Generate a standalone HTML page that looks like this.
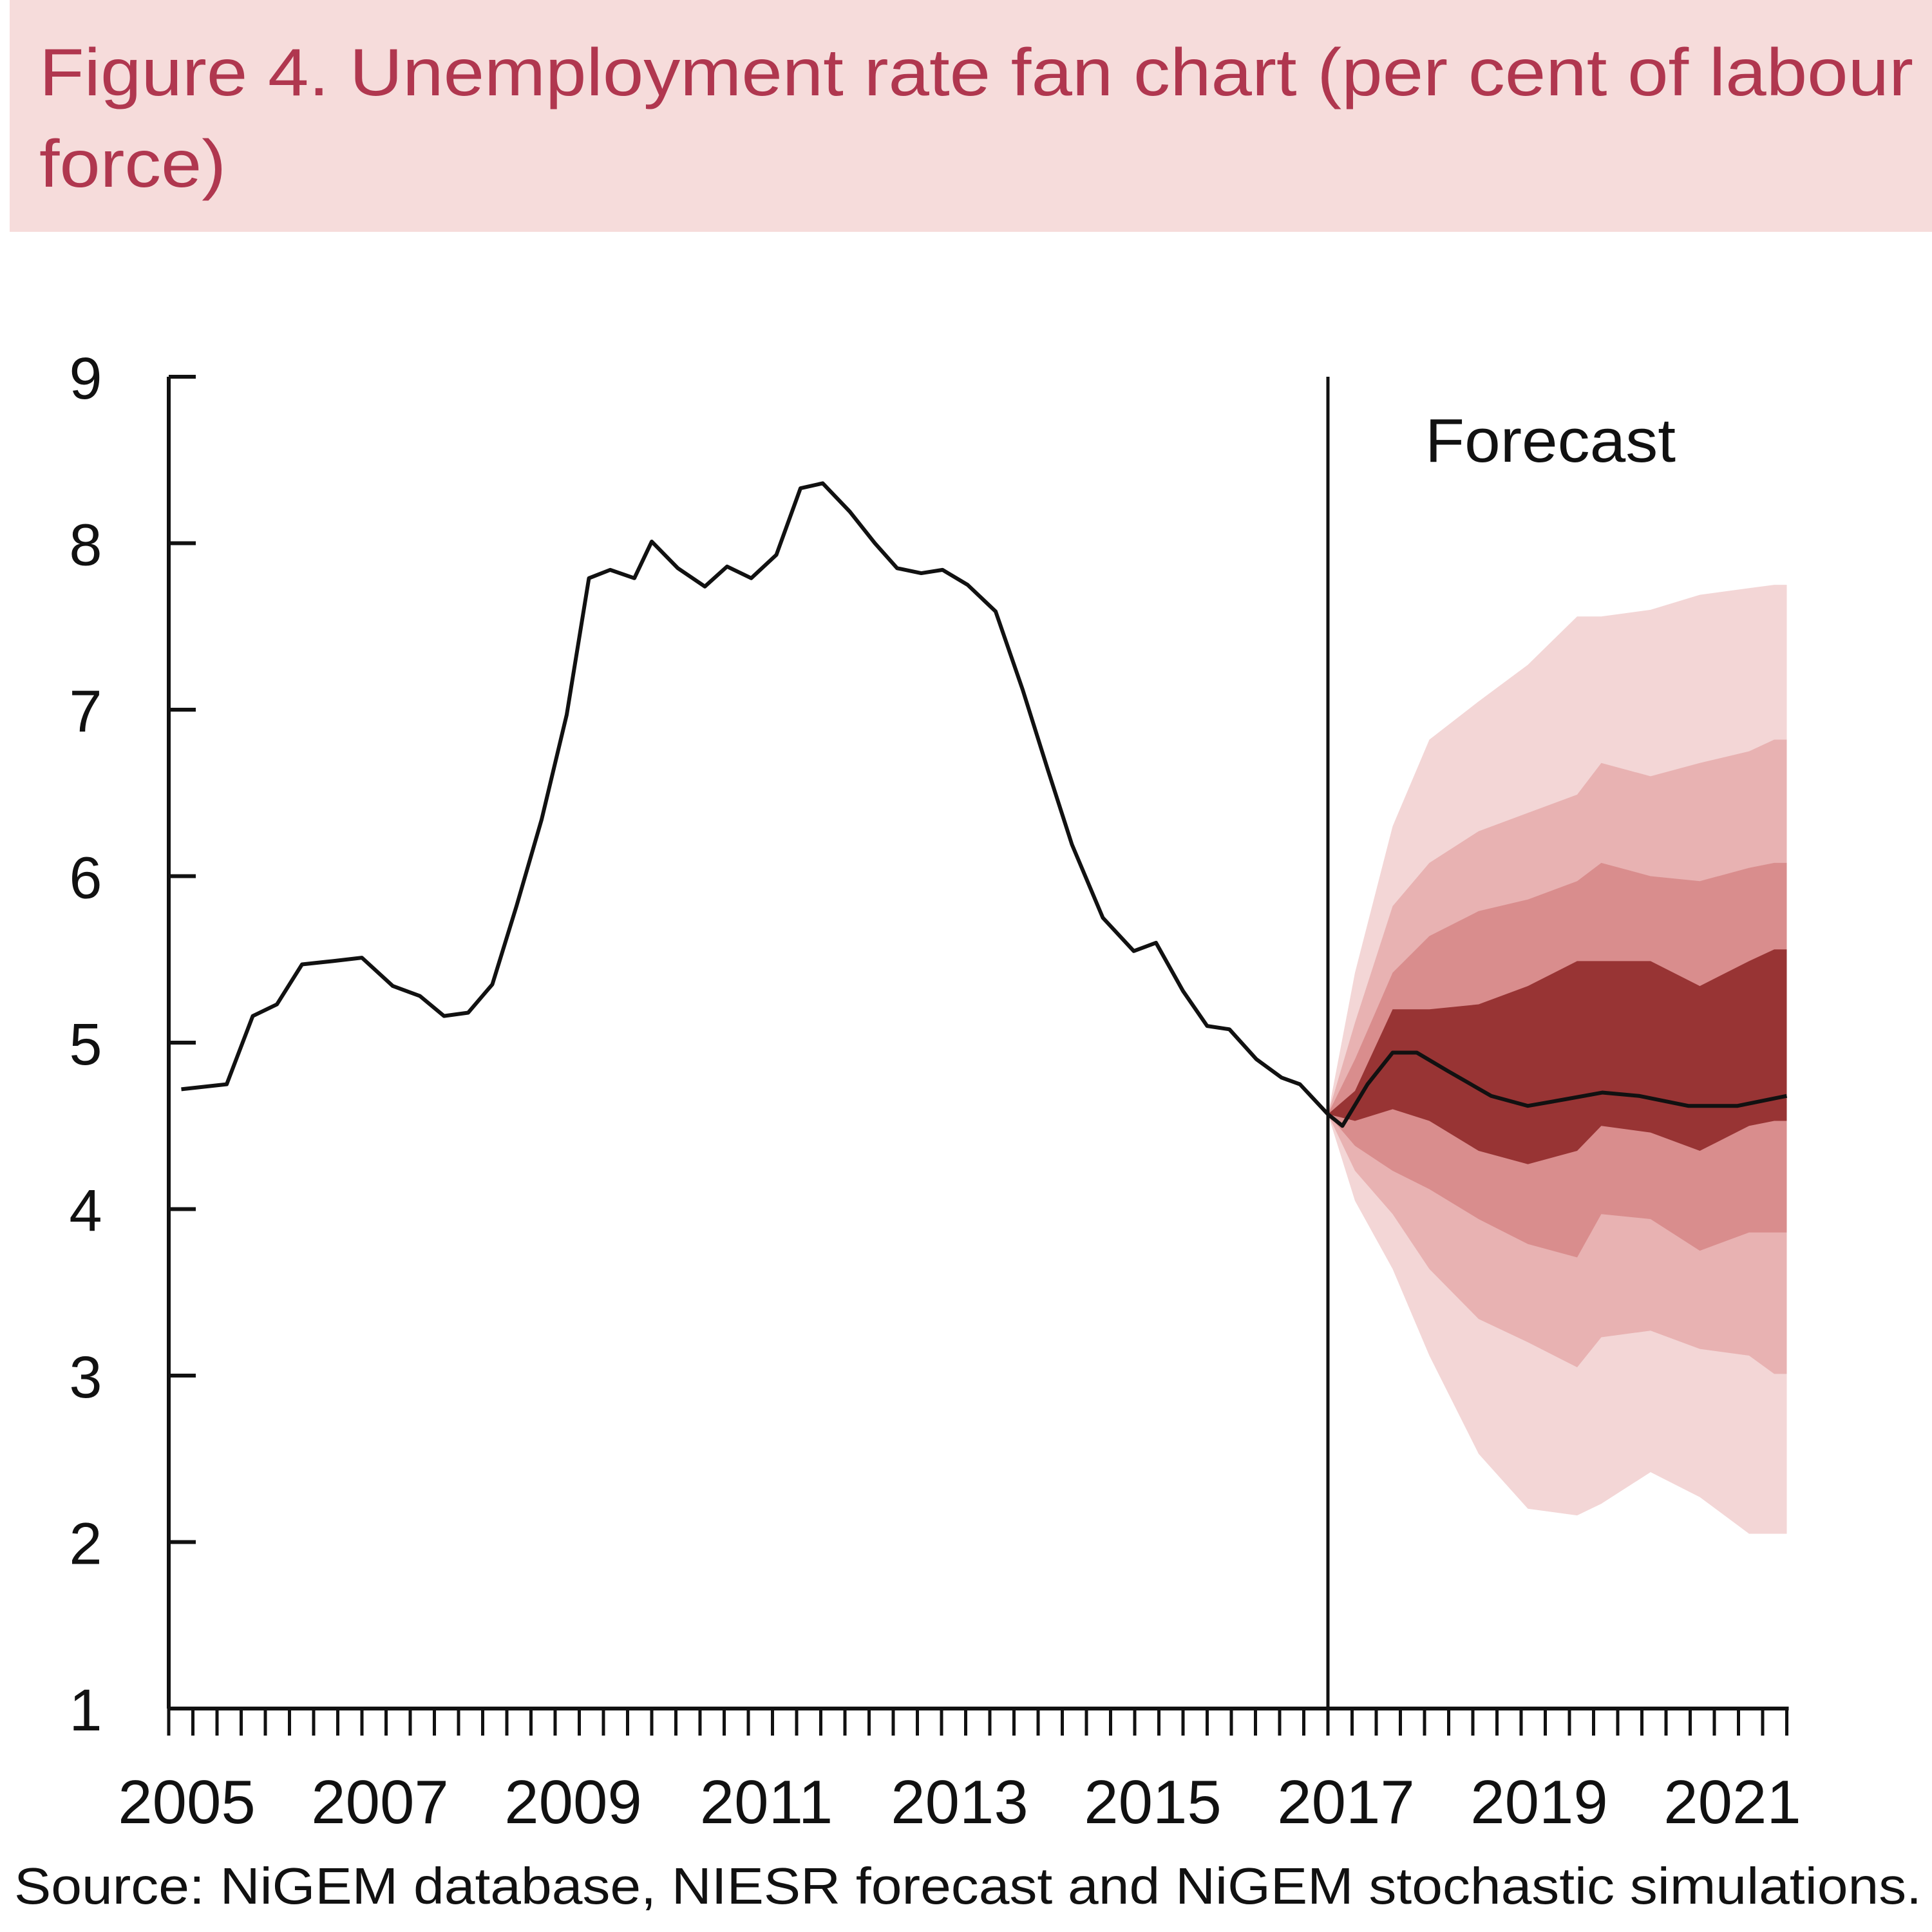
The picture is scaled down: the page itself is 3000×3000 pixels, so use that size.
<!DOCTYPE html>
<html><head><meta charset="utf-8"><style>
body{margin:0;background:#fff}
svg{display:block}
text{font-family:"Liberation Sans","DejaVu Sans",sans-serif}
</style></head><body>
<svg id="c" width="3000" height="3000" viewBox="0 0 3000 3000" xmlns="http://www.w3.org/2000/svg">
<rect x="15" y="0" width="2985" height="360" fill="#f6dcdb"/>
<text x="61" y="148" font-size="104" fill="#b0374f" textLength="2910" lengthAdjust="spacingAndGlyphs">Figure 4. Unemployment rate fan chart (per cent of labour</text>
<text x="61" y="290" font-size="104" fill="#b0374f" textLength="290" lengthAdjust="spacingAndGlyphs">force)</text>
<g id="fan"></g>
<g id="lines"></g>
<g id="axes"></g>
<text x="2213" y="717" font-size="96" fill="#111" textLength="389" lengthAdjust="spacingAndGlyphs">Forecast</text>
<text x="22" y="2956" font-size="80" fill="#111" textLength="2962" lengthAdjust="spacingAndGlyphs">Source: NiGEM database, NIESR forecast and NiGEM stochastic simulations.</text>
</svg>
<script>
const histYears=[2005.13,2005.6,2005.87,2006.12,2006.38,2006.7,2007.0,2007.32,2007.6,2007.85,2008.1,2008.35,2008.6,2008.86,2009.12,2009.35,2009.57,2009.82,2010.0,2010.27,2010.55,2010.78,2011.03,2011.29,2011.54,2011.77,2012.05,2012.31,2012.54,2012.79,2013.01,2013.27,2013.56,2013.84,2014.1,2014.35,2014.67,2014.99,2015.22,2015.5,2015.75,2015.98,2016.26,2016.52,2016.71,2017.0];
const histValues=[4.72,4.75,5.16,5.23,5.47,5.49,5.51,5.34,5.28,5.16,5.18,5.35,5.82,6.34,6.97,7.79,7.84,7.79,8.01,7.85,7.74,7.86,7.79,7.93,8.33,8.36,8.19,8.0,7.85,7.82,7.84,7.75,7.59,7.12,6.64,6.19,5.75,5.55,5.6,5.31,5.1,5.08,4.9,4.79,4.75,4.57];
const fcYears=[2017.0,2017.15,2017.41,2017.67,2017.92,2018.24,2018.69,2019.07,2019.46,2019.84,2020.22,2020.73,2021.24,2021.75];
const fcValues=[4.57,4.5,4.75,4.94,4.94,4.83,4.68,4.62,4.66,4.7,4.68,4.62,4.62,4.68];
const fanYears=[2017.0,2017.28,2017.67,2018.05,2018.56,2019.07,2019.58,2019.83,2020.34,2020.85,2021.36,2021.62,2021.75];
const band90Upper=[4.57,5.42,6.3,6.82,7.05,7.27,7.56,7.56,7.6,7.69,7.73,7.75,7.75];
const band90Lower=[4.57,4.05,3.64,3.12,2.53,2.2,2.16,2.23,2.42,2.27,2.05,2.05,2.05];
const band70Upper=[4.57,5.12,5.82,6.08,6.27,6.38,6.49,6.68,6.6,6.68,6.75,6.82,6.82];
const band70Lower=[4.57,4.23,3.97,3.64,3.34,3.2,3.05,3.23,3.27,3.16,3.12,3.01,3.01];
const band50Upper=[4.57,4.9,5.42,5.64,5.79,5.86,5.97,6.08,6.0,5.97,6.05,6.08,6.08];
const band50Lower=[4.57,4.38,4.23,4.12,3.94,3.79,3.71,3.97,3.94,3.75,3.86,3.86,3.86];
const band30Upper=[4.57,4.71,5.2,5.2,5.23,5.34,5.49,5.49,5.49,5.34,5.49,5.56,5.56];
const band30Lower=[4.57,4.53,4.6,4.53,4.35,4.27,4.35,4.5,4.46,4.35,4.5,4.53,4.53];
const yTicks=[1,2,3,4,5,6,7,8,9];
const xLabels=[2005,2007,2009,2011,2013,2015,2017,2019,2021];
const forecastStart=2017;

const NS="http://www.w3.org/2000/svg";
const X0=262,PX=150,Y9=585,PY=258.5;
const sx=t=>X0+(t-2005)*PX;
const sy=v=>Y9+(9-v)*PY;
function mk(tag,attrs,parent){const e=document.createElementNS(NS,tag);for(const k in attrs)e.setAttribute(k,attrs[k]);parent.appendChild(e);return e;}
const fan=document.getElementById('fan'),lines=document.getElementById('lines'),axes=document.getElementById('axes');
function band(up,lo,col,name){
  let d='M'+fanYears.map((t,i)=>sx(t)+','+sy(up[i])).join(' L');
  for(let i=fanYears.length-1;i>=0;i--)d+=' L'+sx(fanYears[i])+','+sy(lo[i]);
  const p=mk('path',{d:d+'Z',fill:col},fan);
  
  
}
band(band90Upper,band90Lower,'#f3d6d6','fan-band-outer');
band(band70Upper,band70Lower,'#e8b2b2','fan-band-2');
band(band50Upper,band50Lower,'#d98d8d','fan-band-3');
band(band30Upper,band30Lower,'#983434','fan-band-central');
function line(ys,vs,name){
  const p=mk('path',{d:'M'+ys.map((t,i)=>sx(t)+','+sy(vs[i])).join(' L'),fill:'none',stroke:'#111','stroke-width':6,'stroke-linejoin':'round'},lines);
  
  
}
line(histYears,histValues,'historical-line');
line(fcYears,fcValues,'forecast-central-line');
const yl=mk('line',{x1:X0,y1:Y9,x2:X0,y2:sy(1),stroke:'#111','stroke-width':6},axes);


const xl=mk('line',{x1:X0,y1:sy(1),x2:sx(2021.75)+3,y2:sy(1),stroke:'#111','stroke-width':6},axes);


const fl=mk('line',{x1:sx(forecastStart),y1:Y9,x2:sx(forecastStart),y2:sy(1),stroke:'#111','stroke-width':5},axes);


yTicks.forEach(v=>{
  const t=mk('line',{x1:X0,y1:sy(v),x2:X0+42,y2:sy(v),stroke:'#111','stroke-width':6},axes);
  
  
  const l=mk('text',{x:133,y:sy(v)+34,'font-size':92,'text-anchor':'middle',fill:'#111'},axes);
  l.textContent=v;
  
  
});
for(let q=0;q<=67;q++){
  const t=mk('line',{x1:sx(2005+q/4),y1:sy(1),x2:sx(2005+q/4),y2:sy(1)+42,stroke:'#111','stroke-width':5},axes);
  
  
}
xLabels.forEach(y=>{
  const l=mk('text',{x:sx(y)+28,y:2831,'font-size':96,'text-anchor':'middle',fill:'#111'},axes);
  l.textContent=y;
  
  
});
</script>
</body></html>
